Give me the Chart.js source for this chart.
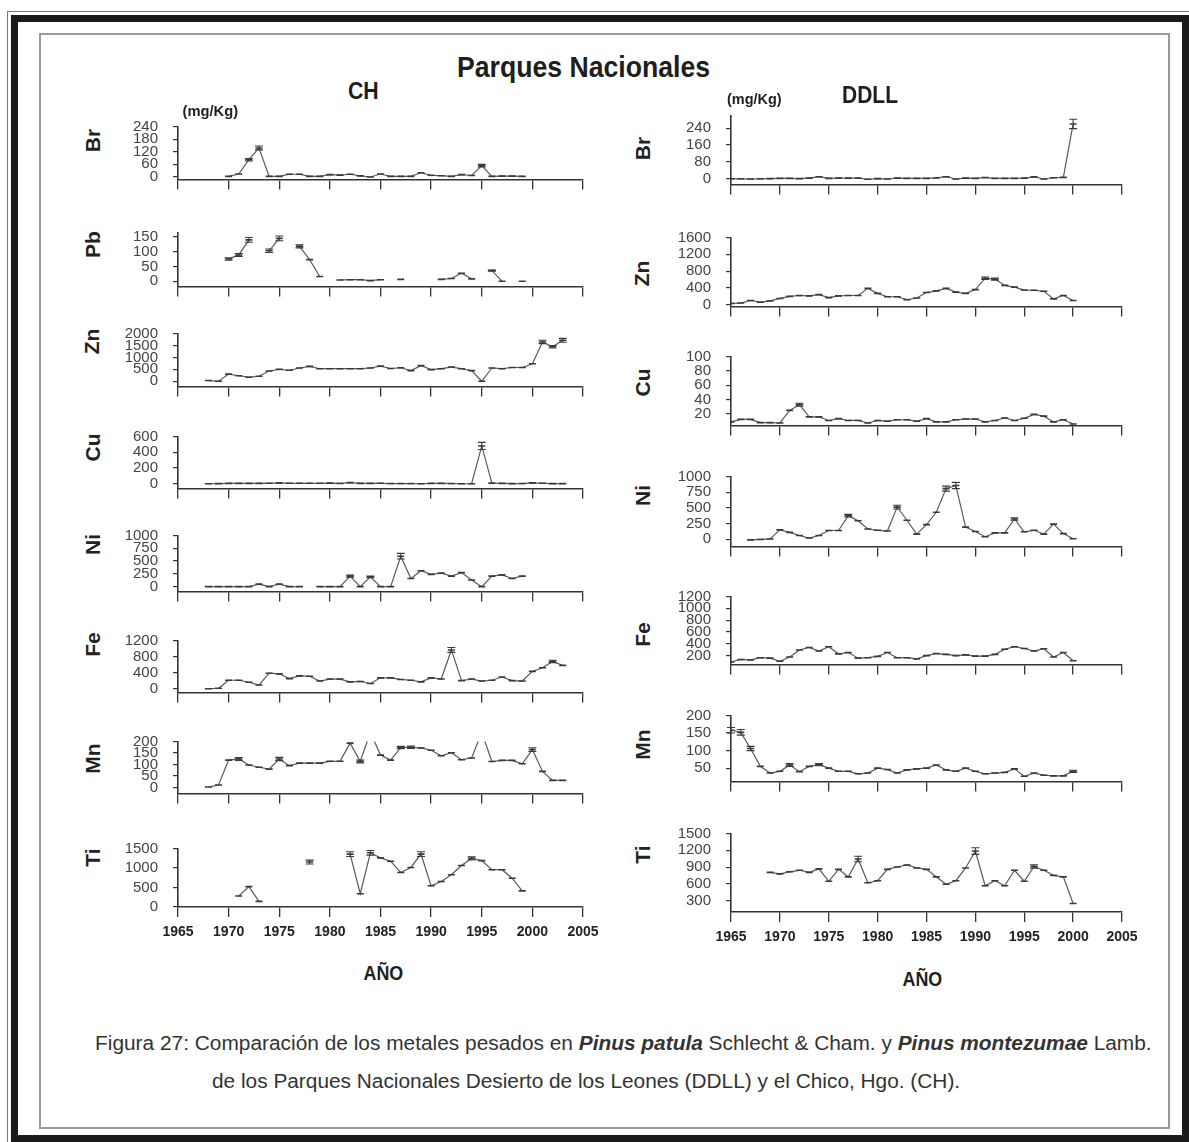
<!DOCTYPE html>
<html>
<head>
<meta charset="utf-8">
<script src="https://cdn.jsdelivr.net/npm/chart.js@4.4.1/dist/chart.umd.min.js"></script>
<style>
  html, body { margin: 0; padding: 0; background: #fff; }
  #page {
    position: relative; width: 1189px; height: 1142px; overflow: hidden; background: #fff;
    font-family: 'Liberation Sans Narrow', 'Arial Narrow', 'Liberation Sans', Arial, sans-serif; color: #222;
  }
  .frame-line { position: absolute; left: 7px; top: 11px; right: -2px; bottom: -2px; border: 1px solid #777; }
  .frame-outer { position: absolute; left: 11px; top: 15px; right: 0; bottom: 0; border: 7px solid #1b1b1b; box-sizing: border-box; }
  .frame-inner { position: absolute; left: 39px; top: 33px; width: 1131px; height: 1096px; border: 2px solid #9a9a9a; box-sizing: border-box; }
  .txt { position: absolute; white-space: nowrap; line-height: 1; transform-origin: center center; }
  canvas { position: absolute; }
</style>
</head>
<body>
<div id="page">
  <div class="frame-line"></div>
  <div class="frame-outer"></div>
  <div class="frame-inner"></div>
</div>
<script>
// Years sampled at each site
const yearsCH = [1968, 1969, 1970, 1971, 1972, 1973, 1974, 1975, 1976, 1977, 1978, 1979,
                 1980, 1981, 1982, 1983, 1984, 1985, 1986, 1987, 1988, 1989, 1990, 1991,
                 1992, 1993, 1994, 1995, 1996, 1997, 1998, 1999, 2000, 2001, 2002, 2003];
const yearsDDLL = [1965, 1966, 1967, 1968, 1969, 1970, 1971, 1972, 1973, 1974, 1975, 1976,
                   1977, 1978, 1979, 1980, 1981, 1982, 1983, 1984, 1985, 1986, 1987, 1988,
                   1989, 1990, 1991, 1992, 1993, 1994, 1995, 1996, 1997, 1998, 1999, 2000];
const yearTicks = [1965, 1970, 1975, 1980, 1985, 1990, 1995, 2000, 2005];

// El Chico (CH), mg/Kg
const chBr = [null, null, 3, 14, 82, 138, 3, 3, 13, 13, 3, 3, 11, 9, 13, 5, 0, 14, 3, 3, 3, 20, 8, 6,
              3, 11, 7, 54, 3, 4, 4, 3, null, null, null, null];
const chPb = [null, null, 75, 89, 140, null, 103, 145, null, 118, 73, 16, null, 4, 5, 5, 2, 5, null, 6, null, null, null, 6,
              9, 27, 8, null, 36, 0, null, 0, null, null, null, null];
const chZn = [30, 0, 300, 230, 170, 210, 430, 500, 460, 555, 625, 525, 525, 525, 525, 525, 555, 635, 535, 565, 445, 655, 485, 525,
              595, 525, 445, 0, 555, 525, 575, 575, 735, 1645, 1445, 1715];
const chCu = [0, 2, 5, 5, 5, 5, 6, 12, 6, 6, 6, 6, 8, 4, 15, 5, 5, 6, 3, 3, 3, 0, 5, 5,
              3, 0, 0, 480, 8, 5, 2, 3, 12, 6, 2, 2];
const chNi = [0, 0, 0, 0, 0, 50, 0, 50, 0, 0, null, 0, 0, 0, 205, 0, 190, 0, 0, 595, 160, 310, 240, 265,
              205, 275, 130, 0, 205, 230, 160, 205, null, null, null, null];
const chFe = [0, 10, 210, 210, 160, 90, 385, 370, 250, 320, 310, 190, 240, 240, 170, 180, 130, 270, 270, 230, 210, 170, 270, 240,
              965, 200, 240, 190, 210, 290, 200, 190, 430, 520, 680, 580];
const chMn = [2, 11, 119, 124, 98, 88, 80, 124, 95, 106, 106, 106, 114, 114, 193, 113, 240, 141, 119, 174, 175, 172, 162, 138,
              151, 121, 128, 240, 113, 118, 118, 103, 165, 70, 31, 31];
const chTi = [null, null, null, 283, 522, 145, null, null, null, null, 1152, null, null, null, 1355, 340, 1390, 1260, 1174, 884, 1014, 1355, 543, 652,
              826, 1065, 1246, 1188, 957, 957, 739, 413, null, null, null, null];

// Error half-widths where the bars are visible (year: value)
const chBrErr = {1972: 6, 1973: 9, 1995: 6};
const chPbErr = {1970: 4, 1971: 5, 1972: 8, 1974: 6, 1975: 8, 1977: 5, 1996: 2};
const chZnErr = {2001: 70, 2002: 50, 2003: 80};
const chCuErr = {1995: 45};
const chNiErr = {1982: 20, 1984: 15, 1987: 55};
const chFeErr = {1992: 60, 2002: 30};
const chMnErr = {1971: 6, 1975: 7, 1983: 6, 1987: 5, 1988: 5, 2000: 8};
const chTiErr = {1978: 50, 1982: 60, 1984: 60, 1989: 60, 1994: 40};

// Desierto de los Leones (DDLL), mg/Kg
const ddBr = [0, 0, -1, 0, 1, 2, 2, 1, 3, 10, 2, 3, 3, 3, -2, 1, -1, 3, 2, 2, 2, 4, 10, -1,
              3, 2, 6, 2, 2, 2, 3, 9, -1, 5, 7, 260];
const ddZn = [30, 40, 100, 60, 90, 150, 200, 220, 210, 240, 170, 210, 220, 220, 390, 270, 190, 190, 120, 160, 290, 330, 390, 300,
              270, 360, 630, 610, 460, 420, 350, 345, 320, 140, 220, 100];
const ddCu = [9, 12.5, 12.5, 8, 8, 7.5, 25, 33, 16, 16, 11, 13.5, 11, 11, 7.5, 11, 10, 12, 12, 10, 13.5, 9, 9, 12,
              13, 13, 9, 11, 14.5, 11, 14, 19.5, 17, 9, 12, 6];
const ddNi = [null, null, -10, -3, 5, 150, 110, 60, 20, 60, 140, 140, 377, 295, 164, 143, 131, 512, 303, 82, 234, 430, 807, 857,
              193, 123, 41, 102, 102, 324, 119, 143, 82, 242, 90, 8];
const ddFe = [92, 135, 127, 165, 157, 105, 178, 295, 338, 278, 351, 230, 252, 157, 165, 187, 252, 165, 165, 144, 200, 235, 222, 200,
              213, 192, 192, 222, 308, 351, 321, 278, 317, 178, 252, 114];
const ddMn = [158, 152, 106, 55, 36, 41, 59, 40, 55, 60, 50, 41, 41, 34, 36, 50, 46, 36, 45, 48, 50, 59, 45, 41,
              50, 41, 34, 36, 38, 48, 27, 36, 30, 28, 28, 41];
const ddTi = [null, null, null, null, 806, 780, 817, 844, 806, 870, 648, 860, 727, 1045, 621, 658, 860, 902, 939, 886, 860, 727, 595, 658,
              886, 1187, 568, 658, 568, 844, 648, 913, 844, 754, 727, 251];

const ddBrErr = {2000: 22};
const ddZnErr = {1991: 30, 1992: 25};
const ddCuErr = {1972: 2};
const ddNiErr = {1977: 20, 1982: 30, 1987: 40, 1988: 50, 1994: 20};
const ddFeErr = {};
const ddMnErr = {1965: 8, 1966: 8, 1967: 6, 1971: 4, 1974: 3, 2000: 3};
const ddTiErr = {1978: 50, 1990: 60, 1996: 30};

// Y tick labels per panel
const chBrTicks = [0, 60, 120, 180, 240];
const chPbTicks = [0, 50, 100, 150];
const chZnTicks = [0, 500, 1000, 1500, 2000];
const chCuTicks = [0, 200, 400, 600];
const chNiTicks = [0, 250, 500, 750, 1000];
const chFeTicks = [0, 400, 800, 1200];
const chMnTicks = [0, 50, 100, 150, 200];
const chTiTicks = [0, 500, 1000, 1500];
const ddBrTicks = [0, 80, 160, 240];
const ddZnTicks = [0, 400, 800, 1200, 1600];
const ddCuTicks = [20, 40, 60, 80, 100];
const ddNiTicks = [0, 250, 500, 750, 1000];
const ddFeTicks = [200, 400, 600, 800, 1000, 1200];
const ddMnTicks = [50, 100, 150, 200];
const ddTiTicks = [300, 600, 900, 1200, 1500];

const NARROW = "'Liberation Sans Narrow', 'Arial Narrow', 'Liberation Sans', Arial, sans-serif";
const page = document.getElementById('page');

// Column layout: plot area x-range, element label x
const columns = [
  {
    years: yearsCH, left: 178, right: 583, labelX: 92,
    panels: [
      { name: 'Br', values: chBr, errors: chBrErr, ticks: chBrTicks, min: -12, max: 240, top: 116, bottom: 190, labelY: 140 },
      { name: 'Pb', values: chPb, errors: chPbErr, ticks: chPbTicks, min: -18, max: 165, top: 222, bottom: 297, labelY: 244 },
      { name: 'Zn', values: chZn, errors: chZnErr, ticks: chZnTicks, min: -220, max: 2000, top: 323, bottom: 397, labelY: 341 },
      { name: 'Cu', values: chCu, errors: chCuErr, ticks: chCuTicks, min: -60, max: 600, top: 426, bottom: 499, labelY: 447 },
      { name: 'Ni', values: chNi, errors: chNiErr, ticks: chNiTicks, min: -95, max: 1000, top: 525, bottom: 602, labelY: 544 },
      { name: 'Fe', values: chFe, errors: chFeErr, ticks: chFeTicks, min: -95, max: 1200, top: 630, bottom: 703, labelY: 644 },
      { name: 'Mn', values: chMn, errors: chMnErr, ticks: chMnTicks, min: -26, max: 200, top: 731, bottom: 804, labelY: 758 },
      { name: 'Ti', values: chTi, errors: chTiErr, ticks: chTiTicks, min: 0, max: 1500, top: 838, bottom: 907, labelY: 857 },
    ],
  },
  {
    years: yearsDDLL, left: 731, right: 1122, labelX: 642,
    panels: [
      { name: 'Br', values: ddBr, errors: ddBrErr, ticks: ddBrTicks, min: -27, max: 300, top: 105, bottom: 195, labelY: 148 },
      { name: 'Zn', values: ddZn, errors: ddZnErr, ticks: ddZnTicks, min: -42, max: 1600, top: 227, bottom: 317, labelY: 273 },
      { name: 'Cu', values: ddCu, errors: ddCuErr, ticks: ddCuTicks, min: 4, max: 100, top: 346, bottom: 436, labelY: 382 },
      { name: 'Ni', values: ddNi, errors: ddNiErr, ticks: ddNiTicks, min: -115, max: 1000, top: 466, bottom: 557, labelY: 495 },
      { name: 'Fe', values: ddFe, errors: ddFeErr, ticks: ddFeTicks, min: 50, max: 1200, top: 586, bottom: 675, labelY: 634 },
      { name: 'Mn', values: ddMn, errors: ddMnErr, ticks: ddMnTicks, min: 12, max: 200, top: 705, bottom: 792, labelY: 744 },
      { name: 'Ti', values: ddTi, errors: ddTiErr, ticks: ddTiTicks, min: 100, max: 1500, top: 823, bottom: 912, labelY: 854 },
    ],
  },
];

// Vertical error bars with caps, drawn from dataset.errors
const errorBars = {
  id: 'errorBars',
  afterDatasetsDraw(chart) {
    const ds = chart.data.datasets[0];
    const errs = ds.errors || {};
    const xs = chart.scales.x, ys = chart.scales.y;
    const ctx = chart.ctx;
    ctx.save();
    ctx.strokeStyle = '#3a3a3a';
    ctx.lineWidth = 1.1;
    ds.data.forEach(pt => {
      const e = errs[pt.x];
      if (e == null || pt.y == null) return;
      const px = xs.getPixelForValue(pt.x);
      const hi = ys.getPixelForValue(pt.y + e);
      const lo = ys.getPixelForValue(pt.y - e);
      if (hi < chart.chartArea.top - 4) return;
      ctx.beginPath();
      ctx.moveTo(px, hi); ctx.lineTo(px, lo);
      ctx.moveTo(px - 4, hi); ctx.lineTo(px + 4, hi);
      ctx.moveTo(px - 4, lo); ctx.lineTo(px + 4, lo);
      ctx.stroke();
    });
    ctx.restore();
  }
};

function makePanel(col, p, isBottom) {
  const yW = 70, padR = 30, padT = 12;
  const xH = isBottom ? 42 : 12;
  const w = yW + (col.right - col.left) + padR;
  const h = padT + (p.bottom - p.top) + xH;
  const canvas = document.createElement('canvas');
  canvas.width = w; canvas.height = h;
  canvas.style.left = (col.left - yW) + 'px';
  canvas.style.top = (p.top - padT) + 'px';
  canvas.style.width = w + 'px';
  canvas.style.height = h + 'px';
  page.appendChild(canvas);

  new Chart(canvas, {
    type: 'line',
    data: {
      datasets: [{
        data: col.years.map((yr, i) => ({ x: yr, y: p.values[i] })),
        errors: p.errors,
        borderColor: '#5a5a5a',
        borderWidth: 1.2,
        tension: 0,
        spanGaps: false,
        pointStyle: 'line',
        pointRadius: 3.5,
        pointBorderWidth: 1.6,
        pointBorderColor: '#3a3a3a',
        pointBackgroundColor: '#3a3a3a',
      }],
    },
    options: {
      responsive: false,
      animation: false,
      devicePixelRatio: 1,
      events: [],
      layout: { padding: { top: padT, right: padR, left: 0, bottom: 0 } },
      plugins: { legend: { display: false }, tooltip: { enabled: false } },
      scales: {
        x: {
          type: 'linear',
          min: 1965,
          max: 2005,
          afterBuildTicks: s => { s.ticks = yearTicks.map(v => ({ value: v })); },
          afterFit: s => { s.height = xH; },
          border: { display: true, color: '#333', width: 1.6 },
          grid: { drawOnChartArea: false, drawTicks: true, tickLength: 10, color: '#333', lineWidth: 1.3 },
          ticks: {
            display: isBottom,
            autoSkip: false,
            maxRotation: 0,
            padding: 7,
            color: '#222',
            font: { family: NARROW, size: 14, weight: 'bold' },
            callback: v => String(v),
          },
        },
        y: {
          min: p.min,
          max: p.max,
          afterBuildTicks: s => { s.ticks = p.ticks.map(v => ({ value: v })); },
          afterFit: s => { s.width = yW; },
          border: { display: true, color: '#333', width: 1.6 },
          grid: { drawOnChartArea: false, drawTicks: true, tickLength: 5, color: '#333', lineWidth: 1.2 },
          ticks: {
            autoSkip: false,
            padding: 15,
            color: '#444',
            font: { family: NARROW, size: 15, lineHeight: 1 },
            callback: v => String(v),
          },
        },
      },
    },
    plugins: [errorBars],
  });
}

function addText(html, cx, cy, style, fitW, rotate) {
  const el = document.createElement('div');
  el.className = 'txt';
  el.innerHTML = html;
  Object.assign(el.style, style);
  page.appendChild(el);
  const w = el.offsetWidth, h = el.offsetHeight;
  const sx = fitW ? fitW / w : 1;
  el.style.left = (cx - w / 2) + 'px';
  el.style.top = (cy - h / 2) + 'px';
  el.style.transform = (rotate ? 'rotate(' + rotate + 'deg) ' : '') + 'scaleX(' + sx + ')';
}

columns.forEach(col => {
  col.panels.forEach((p, i) => {
    makePanel(col, p, i === col.panels.length - 1);
    addText(p.name, col.labelX, p.labelY,
      { fontFamily: "'Liberation Sans', Arial, sans-serif", fontWeight: 'bold', fontSize: '21px', color: '#222' }, null, -90);
  });
});

const bold = (size) => ({ fontFamily: NARROW, fontWeight: 'bold', fontSize: size + 'px', color: '#1e1e1e' });

addText('Parques Nacionales', 583, 67, bold(30), 253);
addText('CH', 363, 91, bold(24), 31);
addText('DDLL', 870, 95, bold(24), 56);
addText('(mg/Kg)', 210, 110, bold(15), 56);
addText('(mg/Kg)', 754, 98, bold(15), 55);
addText('AÑO', 383, 972, bold(21), 40);
addText('AÑO', 922, 978, bold(21), 40);

const capStyle = { fontFamily: NARROW, fontSize: '20px', color: '#333' };
addText('Figura 27: Comparación de los metales pesados en <b><i>Pinus patula</i></b> Schlecht &amp; Cham. y <b><i>Pinus montezumae</i></b> Lamb.',
  623, 1043, capStyle, 1057);
addText('de los Parques Nacionales Desierto de los Leones (DDLL) y el Chico, Hgo. (CH).',
  586, 1081, capStyle, 748);
</script>
</body>
</html>
